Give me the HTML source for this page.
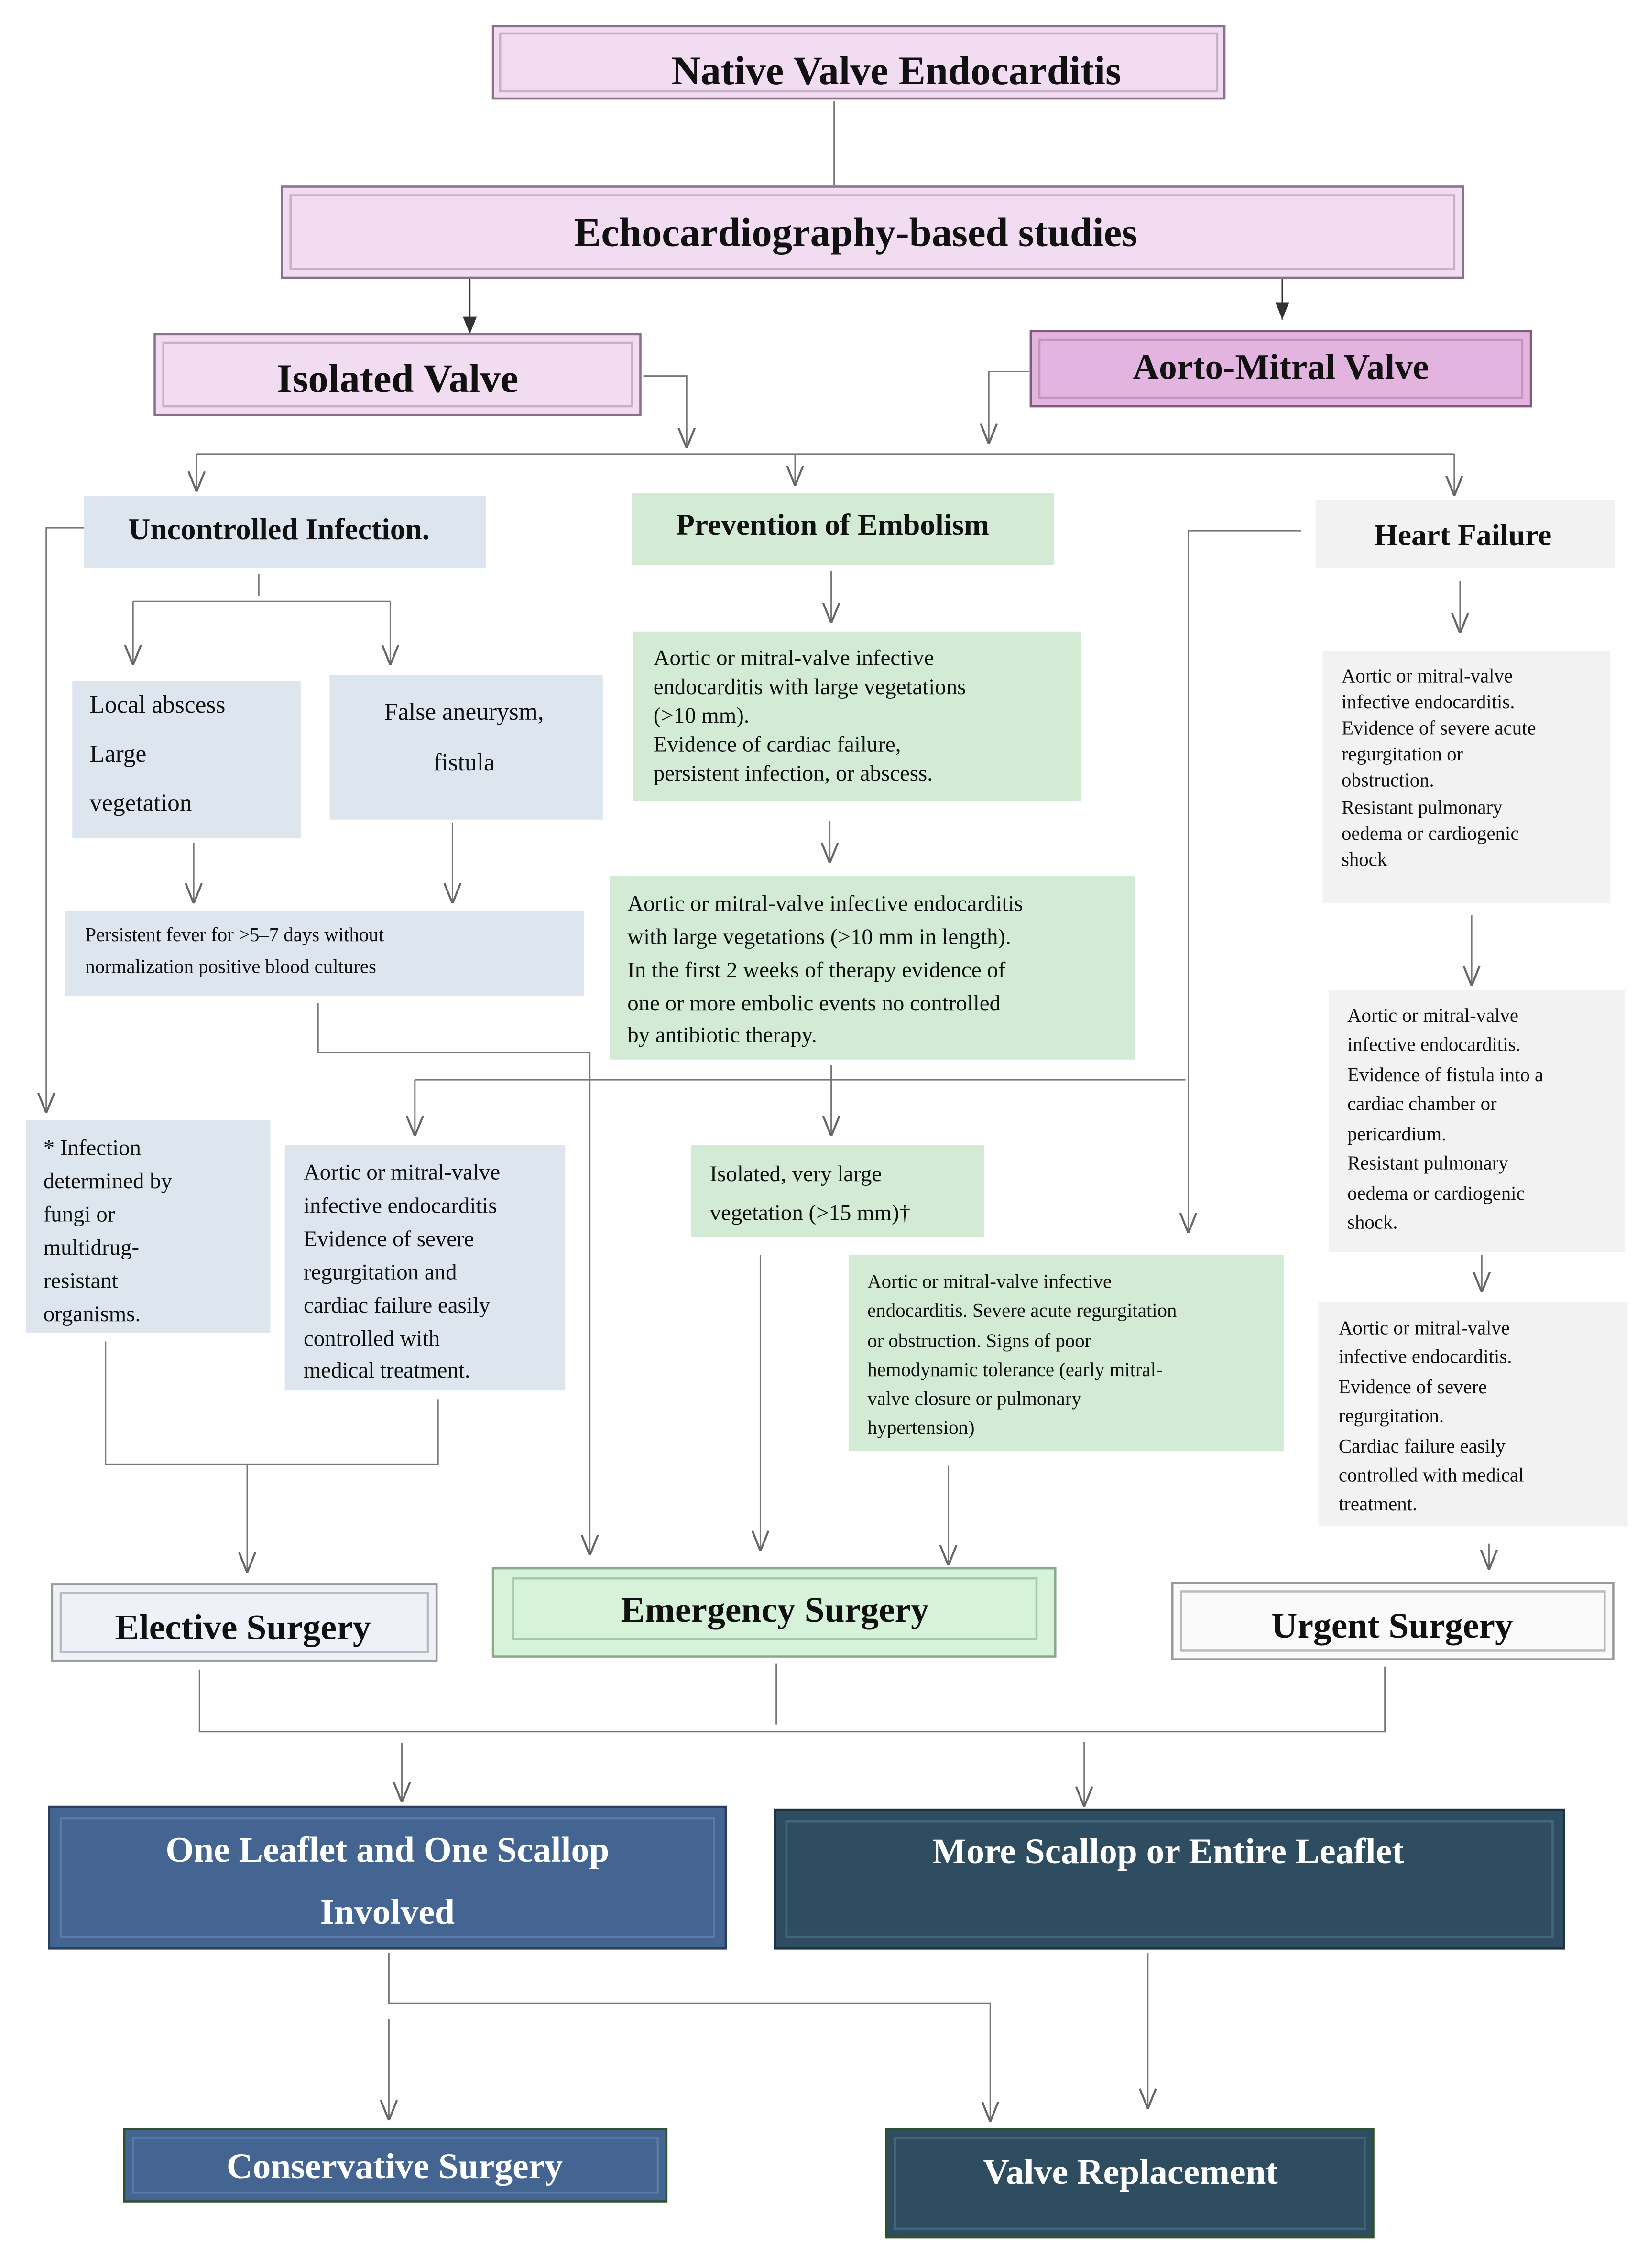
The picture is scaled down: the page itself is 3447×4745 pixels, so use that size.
<!DOCTYPE html>
<html><head><meta charset="utf-8"><style>
html,body{margin:0;padding:0;background:#fff}
svg{display:block}
text{font-family:"Liberation Serif",serif}
</style></head><body>
<svg width="3447" height="4745" viewBox="0 0 1140 1569" xmlns="http://www.w3.org/2000/svg">
<defs>
<marker id="a" viewBox="0 0 10 10" refX="10" refY="5" markerWidth="14" markerHeight="14" markerUnits="userSpaceOnUse" orient="auto"><path d="M0,1 L10,5 L0,9" fill="none" stroke="#666" stroke-width="1"/></marker>
<marker id="f" viewBox="0 0 10 10" refX="10" refY="5" markerWidth="12" markerHeight="12" markerUnits="userSpaceOnUse" orient="auto"><path d="M0,1 L10,5 L0,9z" fill="#333"/></marker>
</defs>
<g fill="none" stroke="#777" stroke-width="1">
<path d="M577,70 V128"/>
<path d="M325,193 V231" marker-end="url(#f)" stroke="#333"/>
<path d="M887,193 V221" marker-end="url(#f)" stroke="#333"/>
<path d="M445,260 H475 V310" marker-end="url(#a)"/>
<path d="M712,257 H684 V307" marker-end="url(#a)"/>
<path d="M136,314 H1006"/>
<path d="M136,314 V340" marker-end="url(#a)"/>
<path d="M550,314 V336" marker-end="url(#a)"/>
<path d="M1006,314 V343" marker-end="url(#a)"/>
<path d="M58,365 H32 V770" marker-end="url(#a)"/>
<path d="M179,397 V412 M92,416 H270"/>
<path d="M92,416 V460" marker-end="url(#a)"/>
<path d="M270,416 V460" marker-end="url(#a)"/>
<path d="M575,395 V431" marker-end="url(#a)"/>
<path d="M1010,402 V438" marker-end="url(#a)"/>
<path d="M134,583 V625" marker-end="url(#a)"/>
<path d="M313,569 V625" marker-end="url(#a)"/>
<path d="M574,568 V597" marker-end="url(#a)"/>
<path d="M1018,633 V682" marker-end="url(#a)"/>
<path d="M220,694 V728 H408 V1076" marker-end="url(#a)"/>
<path d="M287,747 H820"/>
<path d="M287,747 V786" marker-end="url(#a)"/>
<path d="M575,737 V786" marker-end="url(#a)"/>
<path d="M900,367 H822 V853" marker-end="url(#a)"/>
<path d="M1025,868 V894" marker-end="url(#a)"/>
<path d="M73,928 V1013 H303 V968"/>
<path d="M171,1013 V1088" marker-end="url(#a)"/>
<path d="M526,868 V1073" marker-end="url(#a)"/>
<path d="M656,1014 V1083" marker-end="url(#a)"/>
<path d="M1030,1068 V1086" marker-end="url(#a)"/>
<path d="M138,1155 V1198 H958 V1153"/>
<path d="M537,1151 V1193"/>
<path d="M278,1206 V1247" marker-end="url(#a)"/>
<path d="M750,1205 V1250" marker-end="url(#a)"/>
<path d="M269,1351 V1386 H685 V1468" marker-end="url(#a)"/>
<path d="M269,1397 V1467" marker-end="url(#a)"/>
<path d="M794,1351 V1459" marker-end="url(#a)"/>
</g>
<!-- bevel boxes -->
<g stroke-width="1.5">
<rect x="341" y="18" width="506" height="50" fill="#f2dcf1" stroke="#8a7088"/>
<rect x="346" y="23" width="496" height="40" fill="none" stroke="#c9b0c7"/>
<rect x="195" y="129" width="817" height="63" fill="#f2dcf1" stroke="#8a7088"/>
<rect x="201" y="135" width="805" height="51" fill="none" stroke="#c9b0c7"/>
<rect x="107" y="231" width="336" height="56" fill="#f2dcf1" stroke="#8a7088"/>
<rect x="113" y="237" width="324" height="44" fill="none" stroke="#c9b0c7"/>
<rect x="713" y="229" width="346" height="52" fill="#e3b4df" stroke="#7e5a7b"/>
<rect x="719" y="235" width="334" height="40" fill="none" stroke="#c396bf"/>
<rect x="36" y="1096" width="266" height="53" fill="#eef2f8" stroke="#999"/>
<rect x="42" y="1102" width="254" height="41" fill="none" stroke="#bbb"/>
<rect x="341" y="1085" width="389" height="61" fill="#d6f2d9" stroke="#8aa88c"/>
<rect x="355" y="1092" width="362" height="42" fill="none" stroke="#a8c8aa"/>
<rect x="811" y="1095" width="305" height="53" fill="#fafafa" stroke="#999"/>
<rect x="817" y="1101" width="293" height="41" fill="none" stroke="#bbb"/>
<rect x="34" y="1250" width="468" height="98" fill="#446591" stroke="#2a3f5c"/>
<rect x="42" y="1258" width="452" height="82" fill="none" stroke="#5a7aa5"/>
<rect x="536" y="1252" width="546" height="96" fill="#2f4d61" stroke="#1e3342"/>
<rect x="544" y="1260" width="530" height="80" fill="none" stroke="#45667a"/>
<rect x="86" y="1473" width="375" height="50" fill="#446591" stroke="#30502e"/>
<rect x="92" y="1479" width="363" height="38" fill="none" stroke="#5a7aa5"/>
<rect x="613" y="1473" width="337" height="75" fill="#2f4d61" stroke="#30502e"/>
<rect x="619" y="1479" width="325" height="63" fill="none" stroke="#45667a"/>
</g>
<!-- flat boxes -->
<g stroke="none">
<rect x="58" y="343" width="278" height="50" fill="#dde6ef"/>
<rect x="437" y="341" width="292" height="50" fill="#d3ebd4"/>
<rect x="910" y="346" width="207" height="47" fill="#f2f2f2"/>
<rect x="50" y="471" width="158" height="109" fill="#dde6ef"/>
<rect x="228" y="467" width="189" height="100" fill="#dde6ef"/>
<rect x="438" y="437" width="310" height="117" fill="#d3ebd4"/>
<rect x="915" y="450" width="199" height="175" fill="#f2f2f2"/>
<rect x="45" y="630" width="359" height="59" fill="#dde6ef"/>
<rect x="422" y="606" width="363" height="127" fill="#d3ebd4"/>
<rect x="919" y="685" width="205" height="181" fill="#f2f2f2"/>
<rect x="18" y="775" width="169" height="147" fill="#dde6ef"/>
<rect x="197" y="792" width="194" height="170" fill="#dde6ef"/>
<rect x="478" y="792" width="203" height="64" fill="#d3ebd4"/>
<rect x="587" y="868" width="301" height="136" fill="#d3ebd4"/>
<rect x="912" y="901" width="214" height="155" fill="#f2f2f2"/>
</g>
<g font-weight="bold" fill="#111" text-anchor="middle">
<text x="620" y="58" font-size="28">Native Valve Endocarditis</text>
<text x="592" y="170" font-size="28">Echocardiography-based studies</text>
<text x="275" y="271" font-size="28">Isolated Valve</text>
<text x="886" y="262" font-size="25">Aorto-Mitral Valve</text>
<text x="193" y="373" font-size="21">Uncontrolled Infection.</text>
<text x="576" y="370" font-size="21">Prevention of Embolism</text>
<text x="1012" y="377" font-size="21">Heart Failure</text>
<text x="168" y="1134" font-size="25">Elective Surgery</text>
<text x="536" y="1122" font-size="25">Emergency Surgery</text>
<text x="963" y="1133" font-size="25">Urgent Surgery</text>
</g>
<g font-weight="bold" fill="#fff" text-anchor="middle" font-size="25">
<text x="268" y="1288">One Leaflet and One Scallop</text>
<text x="268" y="1331">Involved</text>
<text x="808" y="1289">More Scallop or Entire Leaflet</text>
<text x="273" y="1507">Conservative Surgery</text>
<text x="782" y="1511">Valve Replacement</text>
</g>
<g fill="#111" font-size="17">
<text x="62" y="493">Local abscess</text>
<text x="62" y="527">Large</text>
<text x="62" y="561">vegetation</text>
<text x="321" y="498" text-anchor="middle">False aneurysm,</text>
<text x="321" y="533" text-anchor="middle">fistula</text>
</g>
<g fill="#111" font-size="15.5">
<text x="452" y="460">Aortic or mitral-valve infective</text>
<text x="452" y="480">endocarditis with large vegetations</text>
<text x="452" y="500">(&gt;10 mm).</text>
<text x="452" y="520">Evidence of cardiac failure,</text>
<text x="452" y="540">persistent infection, or abscess.</text>
<text x="434" y="630">Aortic or mitral-valve infective endocarditis</text>
<text x="434" y="653">with large vegetations (&gt;10 mm in length).</text>
<text x="434" y="676">In the first 2 weeks of therapy evidence of</text>
<text x="434" y="699">one or more embolic events no controlled</text>
<text x="434" y="721">by antibiotic therapy.</text>
<text x="491" y="817">Isolated, very large</text>
<text x="491" y="844">vegetation (&gt;15 mm)†</text>
<text x="30" y="799">* Infection</text>
<text x="30" y="822">determined by</text>
<text x="30" y="845">fungi or</text>
<text x="30" y="868">multidrug-</text>
<text x="30" y="891">resistant</text>
<text x="30" y="914">organisms.</text>
<text x="210" y="816">Aortic or mitral-valve</text>
<text x="210" y="839">infective endocarditis</text>
<text x="210" y="862">Evidence of severe</text>
<text x="210" y="885">regurgitation and</text>
<text x="210" y="908">cardiac failure easily</text>
<text x="210" y="931">controlled with</text>
<text x="210" y="953">medical treatment.</text>
</g>
<g fill="#111" font-size="13.5">
<text x="59" y="651">Persistent fever for &gt;5–7 days without</text>
<text x="59" y="673">normalization positive blood cultures</text>
<text x="928" y="472">Aortic or mitral-valve</text>
<text x="928" y="490">infective endocarditis.</text>
<text x="928" y="508">Evidence of severe acute</text>
<text x="928" y="526">regurgitation or</text>
<text x="928" y="544">obstruction.</text>
<text x="928" y="563"> Resistant pulmonary</text>
<text x="928" y="581">oedema or cardiogenic</text>
<text x="928" y="599">shock</text>
<text x="932" y="707">Aortic or mitral-valve</text>
<text x="932" y="727">infective endocarditis.</text>
<text x="932" y="748">Evidence of fistula into a</text>
<text x="932" y="768">cardiac chamber or</text>
<text x="932" y="789">pericardium.</text>
<text x="932" y="809">Resistant pulmonary</text>
<text x="932" y="830">oedema or cardiogenic</text>
<text x="932" y="850">shock.</text>
<text x="926" y="923">Aortic or mitral-valve</text>
<text x="926" y="943">infective endocarditis.</text>
<text x="926" y="964">Evidence of severe</text>
<text x="926" y="984">regurgitation.</text>
<text x="926" y="1005">Cardiac failure easily</text>
<text x="926" y="1025">controlled with medical</text>
<text x="926" y="1045">treatment.</text>
<text x="600" y="891">Aortic or mitral-valve infective</text>
<text x="600" y="911">endocarditis. Severe acute regurgitation</text>
<text x="600" y="932">or obstruction. Signs of poor</text>
<text x="600" y="952">hemodynamic tolerance (early mitral-</text>
<text x="600" y="972">valve closure or pulmonary</text>
<text x="600" y="992">hypertension)</text>
</g>
</svg>
</body></html>
